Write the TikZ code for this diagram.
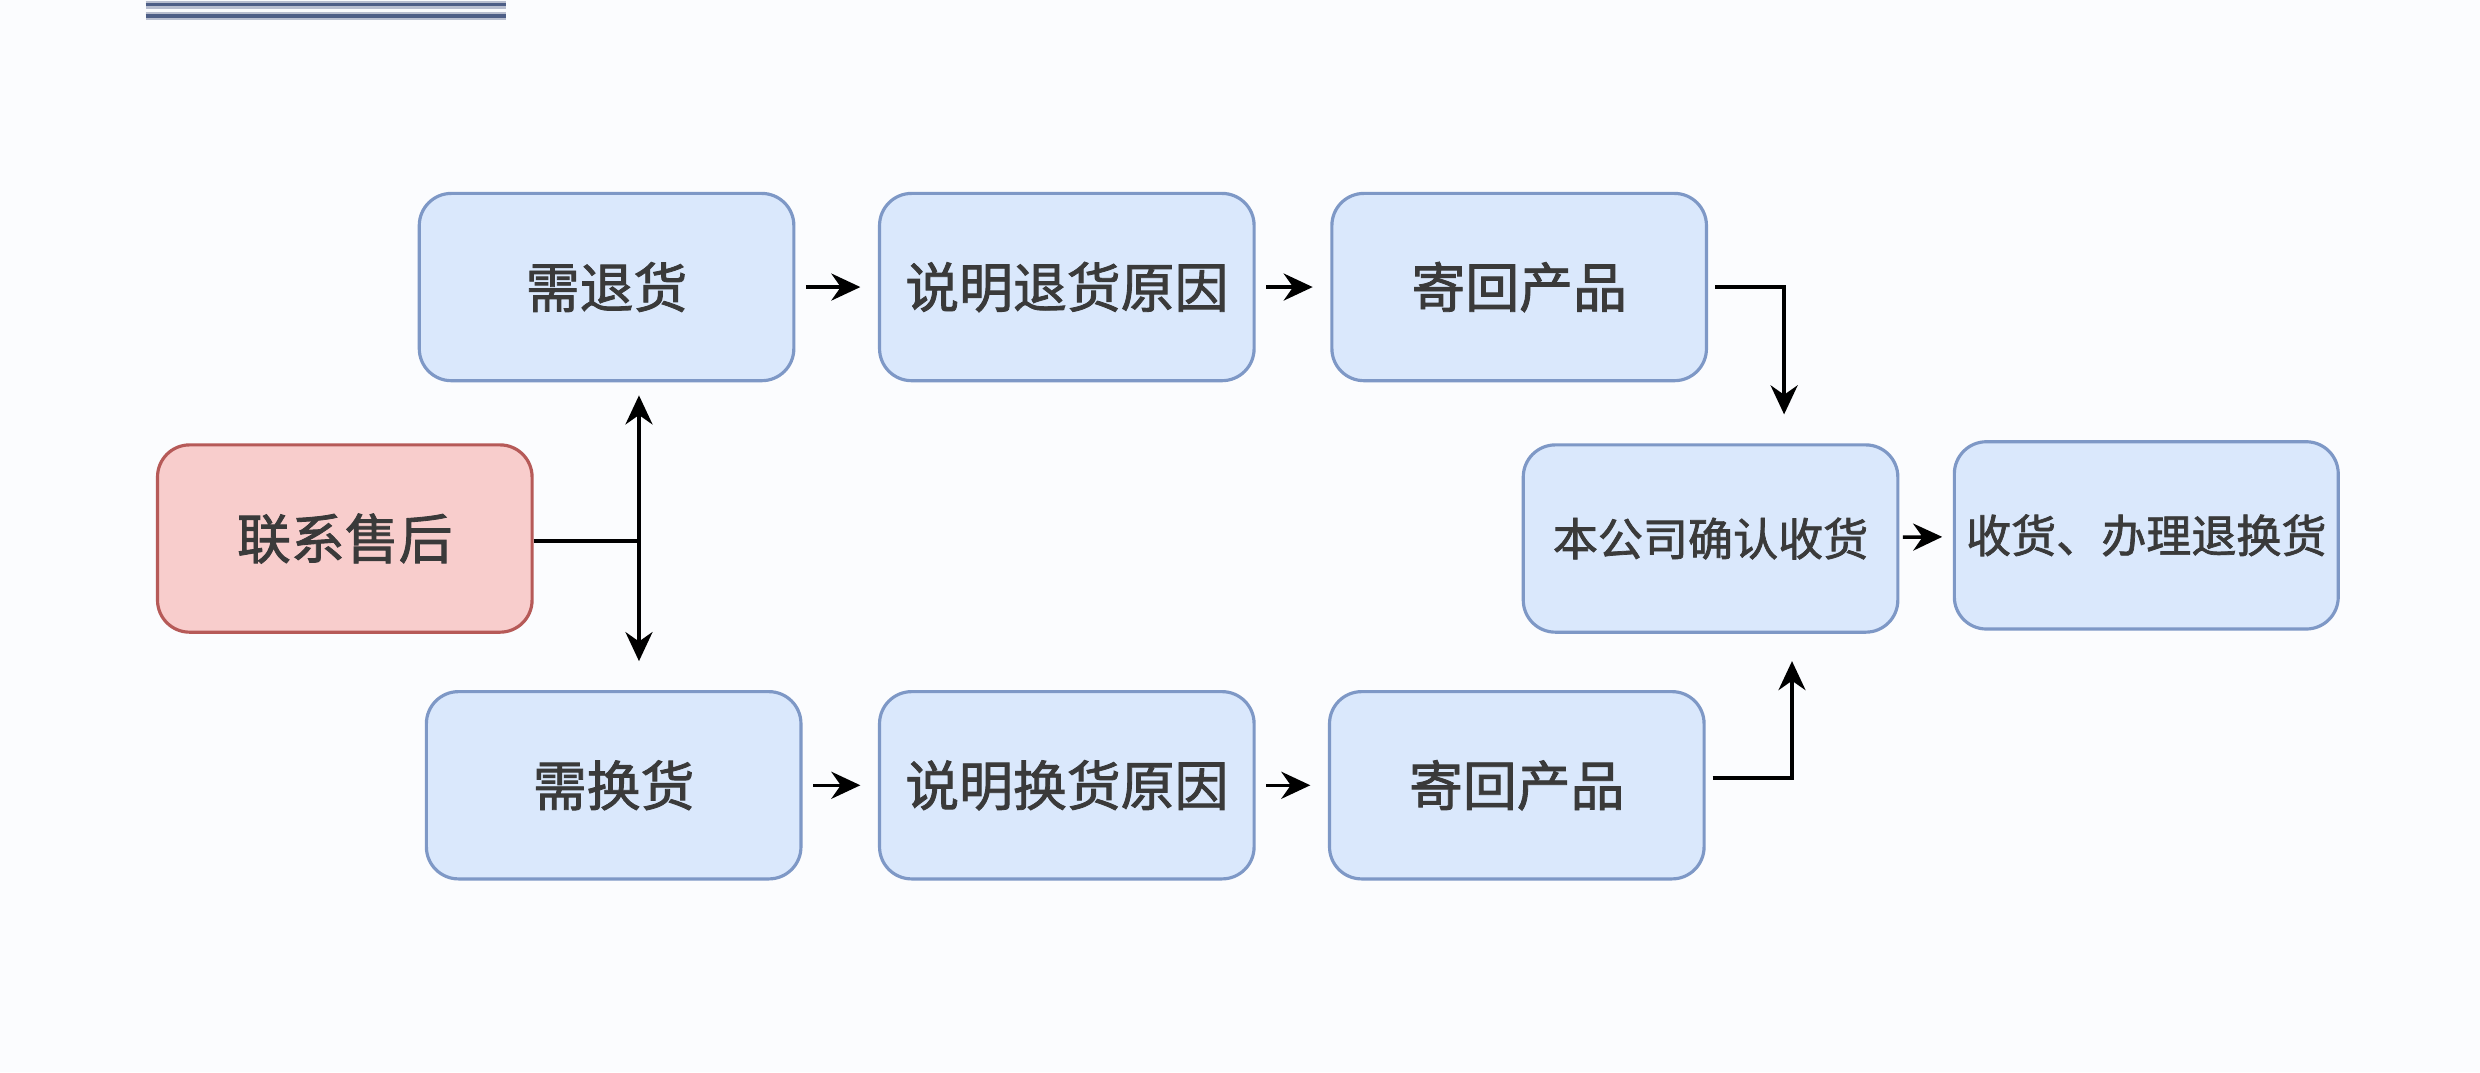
\documentclass[tikz,border=0pt]{standalone}
\usepackage{fontspec}
\usepackage{xcolor}
\setmainfont{Noto Sans CJK SC}
\newfontfamily\boxfont{Noto Sans CJK SC}[FakeBold=1.6]
\usetikzlibrary{arrows.meta}
\definecolor{BoxFill}{HTML}{DAE8FC}
\definecolor{BoxLine}{HTML}{7E98C6}
\definecolor{RedFill}{HTML}{F8CDCC}
\definecolor{RedLine}{HTML}{B65A58}
\definecolor{TextGray}{HTML}{3A3A3A}
\definecolor{PageBg}{HTML}{FBFCFE}
\definecolor{RuleBlue}{HTML}{4D5E86}

\begin{document}
\begin{tikzpicture}[x=0.0158cm,y=-0.0158cm,
    stepbox/.style={draw=BoxLine,fill=BoxFill,line width=0.9pt,rounded corners=0.32cm,
        minimum width=3.74cm,minimum height=1.87cm,text=TextGray,
        font=\boxfont\fontsize{15.3}{18}\selectfont},
    smallbox/.style={stepbox,font=\boxfont\fontsize{12.8}{15}\selectfont},
    redbox/.style={stepbox,draw=RedLine,fill=RedFill},
    flow/.style={line width=1pt,-{Stealth[length=2.9mm,width=2.7mm]}},
    link/.style={line width=1pt}]
    \fill[PageBg] (0,0) rectangle (1568,678);
    \useasboundingbox (0,0) rectangle (1568,678);
    \draw[RuleBlue!40,line width=2.4pt] (92,3) -- (320,3);
    \draw[RuleBlue,line width=1pt] (92,3) -- (320,3);
    \draw[RuleBlue!40,line width=2.4pt] (92,10) -- (320,10);
    \draw[RuleBlue,line width=1pt] (92,10) -- (320,10);

    \node[redbox] (contact) at (218,340.5) {联系售后};
    \node[stepbox] (ret) at (383.5,181.5) {需退货};
    \node[stepbox] (retwhy) at (674.5,181.5) {说明退货原因};
    \node[stepbox] (retsend) at (960.5,181.5) {寄回产品};
    \node[stepbox] (exc) at (388,496.5) {需换货};
    \node[stepbox] (excwhy) at (674.5,496.5) {说明换货原因};
    \node[stepbox] (excsend) at (959,496.5) {寄回产品};
    \node[smallbox] (confirm) at (1081.5,340.5) {本公司确认收货};
    \node[smallbox] (done) at (1357,338.5) {收货、办理退换货};

    % split after contact
    \coordinate (split) at (404,342);
    \coordinate (upend) at (404,250);
    \coordinate (downend) at (404,418);
    \draw[link] (contact.east |- split) -- (split);
    \draw[flow] (split) -- (upend);
    \draw[flow] (split) -- (downend);

    \draw[flow,shorten <=3pt,shorten >=5pt] (ret) -- (retwhy);
    \draw[flow,shorten <=3pt,shorten >=5pt] (retwhy) -- (retsend);
    \draw[flow,shorten <=3pt,shorten >=5pt] (exc) -- (excwhy);
    \draw[flow,shorten <=3pt,shorten >=5pt] (excwhy) -- (excsend);
    \draw[flow,shorten <=1pt,shorten >=3pt] (confirm) -- (done);

    % merge into confirm
    \coordinate (topturn) at (1128,181.5);
    \coordinate (topend) at (1128,262);
    \coordinate (botturn) at (1133,492);
    \coordinate (botend) at (1133,418);
    \draw[flow] ([xshift=2pt]retsend.east) -- (topturn) -- (topend);
    \draw[flow] ([xshift=2pt]excsend.east |- botturn) -- (botturn) -- (botend);
\end{tikzpicture}
\end{document}
